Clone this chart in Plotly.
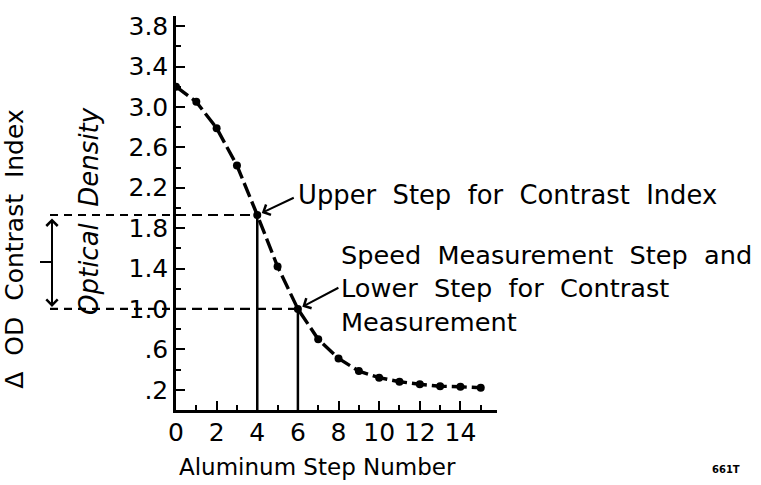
import plotly.graph_objects as go

# ---------- data ----------
steps = list(range(16))
optical_density = [3.20, 3.05, 2.79, 2.42, 1.93, 1.42, 1.00, 0.70,
                   0.51, 0.385, 0.32, 0.28, 0.255, 0.235, 0.23, 0.22]

y_tickvals = [0.2, 0.6, 1.0, 1.4, 1.8, 2.2, 2.6, 3.0, 3.4, 3.8]
y_ticktext = [".2", ".6", "1.0", "1.4", "1.8", "2.2", "2.6", "3.0", "3.4", "3.8"]
x_tickvals = [0, 2, 4, 6, 8, 10, 12, 14]
x_ticktext = ["0", "2", "4", "6", "8", "10", "12", "14"]

upper_step = 4   # upper step for contrast index
lower_step = 6   # speed measurement / lower step

# ---------- layout geometry (pixels) ----------
W, H = 761, 485
L, R, T, B = 176, 264, 12, 75
PW, PH = W - L - R, H - T - B
FONT = "DejaVu Sans"
NB = "\u00a0"


def px_x(p):
    return (p - L) / PW


def px_y(p):
    return (H - B - p) / PH


upper_od = optical_density[steps.index(upper_step)]
lower_od = optical_density[steps.index(lower_step)]

fig = go.Figure()

# main curve
fig.add_trace(go.Scatter(
    x=steps, y=optical_density, mode="lines+markers",
    line=dict(color="black", width=3.4, dash="15px,5px"),
    marker=dict(color="black", size=8),
    showlegend=False, hoverinfo="skip",
))

# vertical solid lines from the axis up to the two steps + dashed levels
for s, v in [(upper_step, upper_od), (lower_step, lower_od)]:
    fig.add_shape(type="line", xref="x", yref="y", x0=s, x1=s, y0=0, y1=v,
                  line=dict(color="black", width=2.5))
    fig.add_shape(type="line", xref="x", yref="y", x0=0, x1=s, y0=v, y1=v,
                  line=dict(color="black", width=2.2, dash="10px,6px"))
    fig.add_shape(type="line", xref="paper", yref="y", x0=px_x(50), x1=0,
                  y0=v, y1=v, line=dict(color="black", width=2.2, dash="8px,6px"))

# double-headed arrow for the contrast index span
fig.add_annotation(
    x=px_x(52), y=lower_od, xref="paper", yref="y",
    ax=0, ay=upper_od, axref="pixel", ayref="y",
    text="", showarrow=True, arrowside="end+start",
    arrowhead=4, startarrowhead=4, arrowsize=1.1, startarrowsize=1.1,
    arrowwidth=2, arrowcolor="black", standoff=2, startstandoff=2,
)
fig.add_shape(type="line", xref="paper", yref="y", x0=px_x(40), x1=px_x(52),
              y0=(upper_od + lower_od) / 2, y1=(upper_od + lower_od) / 2,
              line=dict(color="black", width=2))

# pointer arrows to the marked steps
fig.add_annotation(x=upper_step, y=upper_od, ax=38, ay=-18, text="",
                   showarrow=True, arrowhead=4, arrowsize=1.1, arrowwidth=2,
                   arrowcolor="black", standoff=5)
fig.add_annotation(x=lower_step, y=lower_od, ax=42, ay=-22, text="",
                   showarrow=True, arrowhead=4, arrowsize=1.1, arrowwidth=2,
                   arrowcolor="black", standoff=5)


def label(text, x, y, size, **kw):
    fig.add_annotation(
        x=px_x(x), y=px_y(y), xref="paper", yref="paper", showarrow=False,
        text=text, font=dict(family=FONT, size=size, color="black"), **kw)


label(f"Upper{NB} Step{NB} for{NB} Contrast{NB} Index", 296, 193, 25.8,
      xanchor="left", yanchor="middle")
label(f"Speed{NB} Measurement{NB} Step{NB} and<br>"
      f"Lower{NB} Step{NB} for{NB} Contrast<br>Measurement", 339, 287, 25.6,
      xanchor="left", yanchor="middle", align="left")

# axis titles
label(f"\u0394{NB} OD{NB} Contrast{NB} Index", 15, 248, 25,
      xanchor="center", yanchor="middle", textangle=-90)
label(f"<i>Optical{NB} Density</i>", 89, 209, 26,
      xanchor="center", yanchor="middle", textangle=-90)
label("Aluminum Step Number", 317, 468, 23,
      xanchor="center", yanchor="middle")
label("<b>661T</b>", 726, 470, 10, xanchor="center", yanchor="middle")

fig.update_xaxes(
    range=[0, 15.8], showgrid=False, zeroline=False,
    showline=True, linecolor="black", linewidth=2.5,
    tickmode="array", tickvals=x_tickvals, ticktext=x_ticktext,
    ticks="inside", ticklen=9, tickwidth=2, tickcolor="black",
    ticklabelstandoff=-2,
    tickfont=dict(family=FONT, size=25, color="black"),
    minor=dict(dtick=1, tick0=0, ticks="inside", ticklen=5,
               tickwidth=2, tickcolor="black"),
)
fig.update_yaxes(
    range=[0, 3.9], showgrid=False, zeroline=False,
    showline=True, linecolor="black", linewidth=2.5,
    tickmode="array", tickvals=y_tickvals, ticktext=y_ticktext,
    ticks="inside", ticklen=9, tickwidth=2, tickcolor="black",
    ticklabelstandoff=0,
    tickfont=dict(family=FONT, size=25, color="black"),
    minor=dict(dtick=0.2, tick0=0, ticks="inside", ticklen=5,
               tickwidth=2, tickcolor="black"),
)

fig.update_layout(
    width=W, height=H,
    margin=dict(l=L, r=R, t=T, b=B),
    paper_bgcolor="white", plot_bgcolor="white",
    showlegend=False,
)

# the page's default body margin would shift the figure by 8 px
fig.write_html("out.html", config={"displayModeBar": False},
               post_script="document.body.style.margin='0';")
